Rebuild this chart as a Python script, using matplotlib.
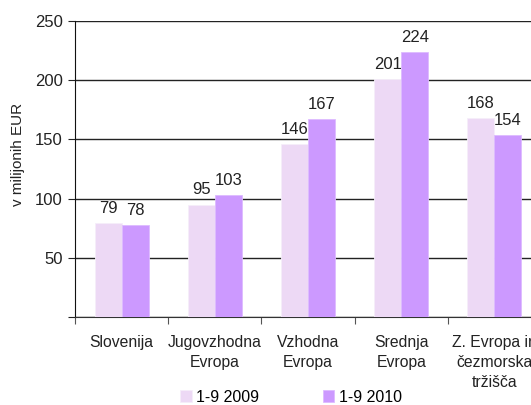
import numpy as np
import matplotlib.pyplot as plt

plt.rcParams['font.family'] = ['Liberation Sans', 'DejaVu Sans']

categories = ['Slovenija', 'Jugovzhodna\nEvropa', 'Vzhodna\nEvropa', 'Srednja\nEvropa',
              'Z. Evropa in\nčezmorska\ntržišča']
v2009 = [79, 95, 146, 201, 168]
v2010 = [78, 103, 167, 224, 154]
series_names = ['1-9 2009', '1-9 2010']
col2009 = '#EDD9F5'
col2010 = '#CC99FF'

fig = plt.figure(figsize=(5.31, 4.05), dpi=100)
# plot area runs past the right edge of the picture, as in the original
ax = fig.add_axes([75 / 531, 1 - 317 / 405, 466 / 531, 296 / 405])

x = np.arange(len(categories))
w = 0.29
b1 = ax.bar(x - w / 2, v2009, w, color=col2009, edgecolor='#F6EEFA', linewidth=0.6,
            label=series_names[0], zorder=3)
b2 = ax.bar(x + w / 2, v2010, w, color=col2010, edgecolor='#DDBBFF', linewidth=0.6,
            label=series_names[1], zorder=3)
for bars in (b1, b2):
    for r in bars:
        ax.text(r.get_x() + r.get_width() / 2, r.get_height() + 6, str(int(r.get_height())),
                ha='center', va='bottom', fontsize=12, color='#222222')

ax.set_xlim(-0.5, len(categories) - 0.5)
ax.set_ylim(0, 250)
ax.set_yticks(range(0, 251, 50))
ax.set_yticklabels(['', '50', '100', '150', '200', '250'])
ax.yaxis.grid(True, color='#222222', linewidth=1.0, zorder=0)
ax.set_axisbelow(True)
ax.set_xticks(np.arange(-0.5, len(categories), 1.0))
ax.set_xticklabels([])
ax.set_xticks(x, minor=True)
ax.set_xticklabels(categories, minor=True, fontsize=11.3, color='#222222', linespacing=1.4)
ax.tick_params(axis='x', which='minor', length=0, pad=13)
ax.tick_params(axis='x', which='major', length=5, color='#555555')
ax.tick_params(axis='y', length=5, labelsize=12, colors='#222222', pad=4)
for s in ('top', 'right'):
    ax.spines[s].set_visible(False)
ax.spines['left'].set_color('#111111')
ax.spines['bottom'].set_color('#333333')
ax.set_ylabel('v milijonih EUR', fontsize=11, color='#222222')
ax.yaxis.set_label_coords(-0.108, 0.55)

fig.legend(handles=[b1, b2], labels=series_names, loc='lower left',
           bbox_to_anchor=(166 / 531, -14 / 405), ncol=2, frameon=False,
           fontsize=11.5, handlelength=0.7, handleheight=0.7, handletextpad=0.3,
           columnspacing=4.0)

fig.savefig('out.png', dpi=100)
